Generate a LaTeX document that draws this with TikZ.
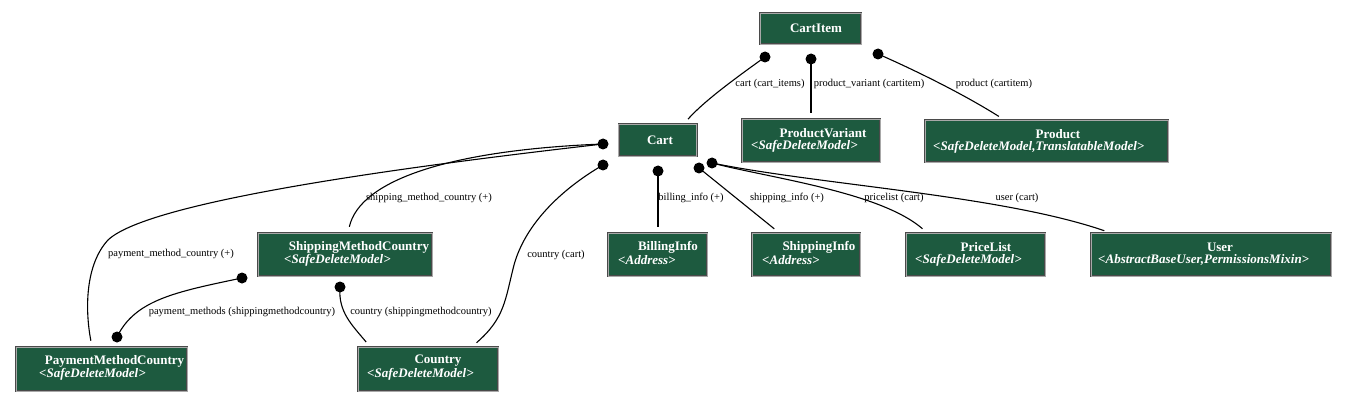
\documentclass[tikz,border=0pt]{standalone}
\usepackage{fontspec}
\setmainfont{Liberation Serif}
\usetikzlibrary{calc}
\definecolor{boxgreen}{HTML}{1D5A3F}
\definecolor{boxedge}{HTML}{4A4A4A}
\definecolor{boxinner}{HTML}{A8A8A8}
\tikzset{
  cls/.style={rectangle, fill=boxgreen, draw=boxedge, line width=0.7pt, double=boxinner, double distance=0.6pt, inner sep=0pt},
  nm/.style={text=white, font=\fontsize{13}{13}\selectfont\bfseries, inner sep=0pt},
  st/.style={text=white, font=\fontsize{13}{13}\selectfont\bfseries\itshape, inner sep=0pt, anchor=west},
  lbl/.style={font=\fontsize{10.5}{10.5}\selectfont, inner sep=0pt},
  dotn/.style={circle, fill=black, inner sep=0pt, minimum size=11pt},
  edge/.style={line width=1.1pt, black},
  gap/.style={shorten >=6pt}
}
\begin{document}
\begin{tikzpicture}[x=1pt, y=-1pt]
\useasboundingbox (0,0) rectangle (1347,401);
% boxes
\node[cls, minimum width=101pt, minimum height=31pt] (ci) at (810.5,28.5) {};
\node[nm] (ciN) at (816,28.5) {CartItem};
\node[cls, minimum width=78pt, minimum height=32pt] (cart) at (657.5,140) {};
\node[nm] (cartN) at (660,140) {Cart};
\node[cls, minimum width=138pt, minimum height=43pt] (pv) at (811,140.5) {};
\node[nm] (pvN) at (823,133) {ProductVariant};
\node[st] (pvS) at (751,146) {<SafeDeleteModel>};
\node[cls, minimum width=243pt, minimum height=42pt] (prod) at (1046.5,141) {};
\node[nm] (prodN) at (1058,134) {Product};
\node[st] (prodS) at (933,147) {<SafeDeleteModel,TranslatableModel>};
\node[cls, minimum width=174pt, minimum height=43pt] (smc) at (345,254.5) {};
\node[nm] (smcN) at (359,247) {ShippingMethodCountry};
\node[st] (smcS) at (284,260) {<SafeDeleteModel>};
\node[cls, minimum width=99pt, minimum height=43pt] (bi) at (657.5,254.5) {};
\node[nm] (biN) at (668,247) {BillingInfo};
\node[st] (biS) at (618,260) {<Address>};
\node[cls, minimum width=108pt, minimum height=43pt] (si) at (806,254.5) {};
\node[nm] (siN) at (819,247) {ShippingInfo};
\node[st] (siS) at (762,260) {<Address>};
\node[cls, minimum width=139pt, minimum height=43pt] (pl) at (975.5,254.5) {};
\node[nm] (plN) at (986,247) {PriceList};
\node[st] (plS) at (915,260) {<SafeDeleteModel>};
\node[cls, minimum width=240pt, minimum height=43pt] (user) at (1211,254.5) {};
\node[nm] (userN) at (1220,247) {User};
\node[st] (userS) at (1098,260) {<AbstractBaseUser,PermissionsMixin>};
\node[cls, minimum width=171pt, minimum height=44pt] (pmc) at (101.5,369) {};
\node[nm] (pmcN) at (114.5,361) {PaymentMethodCountry};
\node[st] (pmcS) at (39,374) {<SafeDeleteModel>};
\node[cls, minimum width=140pt, minimum height=44pt] (ctry) at (428,369) {};
\node[nm] (ctryN) at (438,361) {Country};
\node[st] (ctryS) at (367,374) {<SafeDeleteModel>};
% dot anchors
\coordinate (d1) at (765,57);
\coordinate (d2) at (811,59);
\coordinate (d3) at (878,54);
\coordinate (dL1) at (603,144);
\coordinate (dL2) at (603,165);
\coordinate (dB) at (658,171);
\coordinate (dS) at (699,168);
\coordinate (dP) at (712,163);
\coordinate (dA) at (242,278);
\coordinate (dC) at (340,287);
\coordinate (dB2) at (117,337);
% edges
\draw[edge, gap] (d1) .. controls (740,75) and (705,100) .. (684,0 |- cart.north);
\draw[edge, gap] (d2) -- (d2 |- pv.north);
\draw[edge, gap] (d3) .. controls (910,68) and (960,92) .. (1004,0 |- prod.north);
\draw[edge, gap] (dL1) .. controls (420,165) and (150,200) .. (108,240) .. controls (85,265) and (85,310) .. (92,0 |- pmc.north);
\draw[edge, gap] (dL1) .. controls (450,150) and (360,180) .. (348,0 |- smc.north);
\draw[edge, gap] (dL2) .. controls (560,190) and (525,225) .. (514,265) .. controls (505,300) and (505,318) .. (472,0 |- ctry.north);
\draw[edge, gap] (dB) -- (dB |- bi.north);
\draw[edge, gap] (dS) -- (779,0 |- si.north);
\draw[edge, gap] (dP) .. controls (770,178) and (880,192) .. (927,0 |- pl.north);
\draw[edge, gap] (dP) .. controls (820,185) and (1000,195) .. (1110,0 |- user.north);
\draw[edge] (dA) .. controls (175,292) and (135,300) .. (dB2);
\draw[edge, gap] (dC) .. controls (338,312) and (352,325) .. (370,0 |- ctry.north);
% dots
\foreach \d in {d1,d2,d3,dL1,dL2,dB,dS,dP,dA,dC,dB2}
  \node[dotn] (n\d) at (\d) {};
% labels
\node[lbl] (l1) at (770,84) {cart (cart\_items)};
\node[lbl] (l2) at (869,84) {product\_variant (cartitem)};
\node[lbl] (l3) at (994,84) {product (cartitem)};
\node[lbl] (l4) at (171,254) {payment\_method\_country (+)};
\node[lbl] (l5) at (429,198) {shipping\_method\_country (+)};
\node[lbl] (l6) at (556,255) {country (cart)};
\node[lbl] (l7) at (691,198) {billing\_info (+)};
\node[lbl] (l8) at (787,198) {shipping\_info (+)};
\node[lbl] (l9) at (894,198) {pricelist (cart)};
\node[lbl] (l10) at (1017,198) {user (cart)};
\node[lbl] (l11) at (242,312) {payment\_methods (shippingmethodcountry)};
\node[lbl] (l12) at (421,312) {country (shippingmethodcountry)};
\end{tikzpicture}
\end{document}
